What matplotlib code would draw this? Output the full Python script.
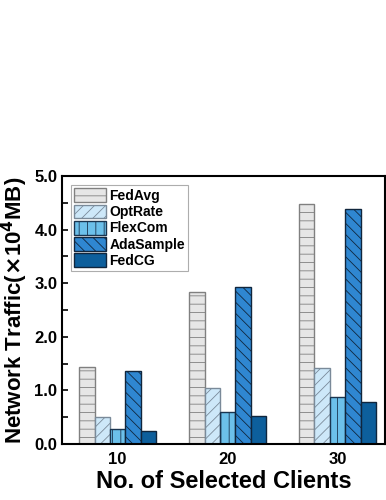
import matplotlib
matplotlib.use("Agg")
import matplotlib.pyplot as plt
import numpy as np

plt.rcParams['font.family'] = ['Liberation Sans', 'DejaVu Sans']
plt.rcParams['font.weight'] = 'bold'
plt.rcParams['hatch.linewidth'] = 0.6

groups = ['10', '20', '30']
methods = ['FedAvg', 'OptRate', 'FlexCom', 'AdaSample', 'FedCG']
FedAvg = [1.44, 2.84, 4.47]
OptRate = [0.50, 1.04, 1.42]
FlexCom = [0.28, 0.60, 0.88]
AdaSample = [1.36, 2.93, 4.38]
FedCG = [0.24, 0.52, 0.78]
series = [FedAvg, OptRate, FlexCom, AdaSample, FedCG]

colors = ['#e6e6e6', '#cde8f9', '#6cc0ea', '#2f87d1', '#0d5f9c']
edges = ['#808080', '#7a8a99', '#1a3550', '#10263d', '#10263d']
hatches = ['--', '///', '||', '\\\\\\', '']

fig = plt.figure(figsize=(3.86, 5.0), dpi=100)
ax = fig.add_axes([0.161, 0.112, 0.836, 0.536])

x = np.arange(len(groups))
w = 0.14
for i, (vals, c, e, h, m) in enumerate(zip(series, colors, edges, hatches, methods)):
    ax.bar(x + (i - 2) * w, vals, width=w, color=c, edgecolor=e, hatch=h,
           linewidth=1.0, label=m)

ax.set_xlim(-0.505, 2.43)
ax.set_ylim(0, 5.0)
ax.set_yticks(np.arange(0, 5.01, 1.0))
ax.set_yticklabels([f'{v:.1f}' for v in np.arange(0, 5.01, 1.0)], fontsize=12, fontweight='bold')
ax.set_yticks(np.arange(0.5, 5.0, 1.0), minor=True)
ax.set_xticks(x)
ax.set_xticklabels(groups, fontsize=12, fontweight='bold')
ax.tick_params(axis='y', which='both', direction='in', length=4, width=1.2)
ax.tick_params(axis='x', length=0, pad=6)
for s in ax.spines.values():
    s.set_linewidth(1.5)

ax.set_ylabel(r'Network Traffic($\times$10$^4$MB)', fontsize=16, fontweight='bold', labelpad=3)
ax.set_xlabel('No. of Selected Clients', fontsize=17, fontweight='bold', labelpad=2)

leg = ax.legend(loc='upper left', bbox_to_anchor=(0.02, 0.975), fontsize=10,
                frameon=True, fancybox=False, edgecolor='#999999',
                handlelength=2.3, handleheight=1.15, labelspacing=0.12,
                handletextpad=0.25, borderpad=0.2, borderaxespad=0.2)
leg.get_frame().set_linewidth(0.8)
for t in leg.get_texts():
    t.set_fontweight('bold')

fig.savefig('out.png', dpi=100)
